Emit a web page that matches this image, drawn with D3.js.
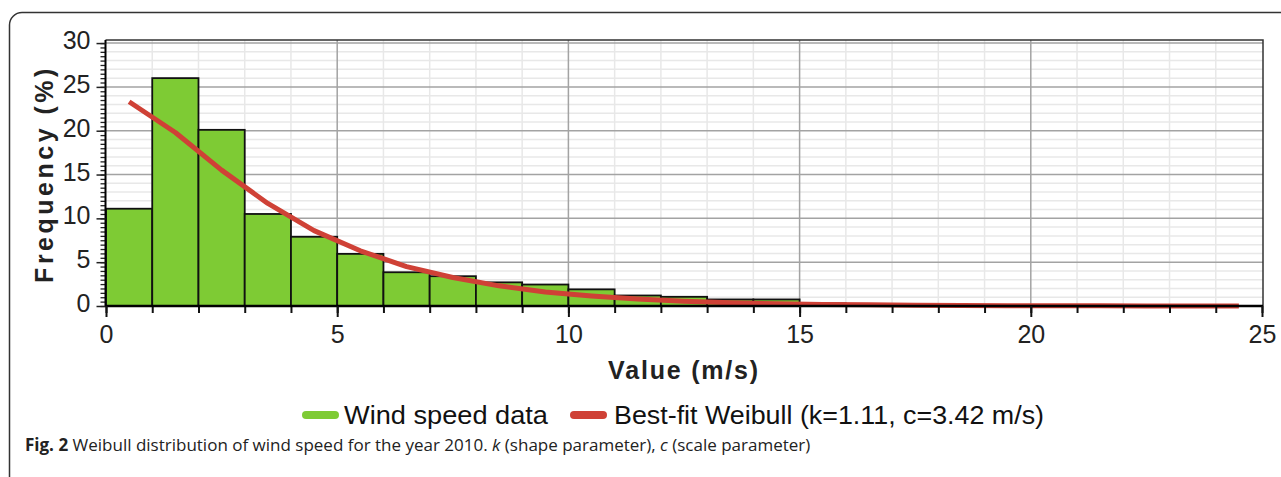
<!DOCTYPE html>
<html>
<head>
<meta charset="utf-8">
<script src="https://cdnjs.cloudflare.com/ajax/libs/d3/7.8.5/d3.min.js"></script>
<style>
  body { margin: 0; background: #fff; }
  svg { display: block; }
</style>
</head>
<body>
<div id="chart"></div>
<script>
// histogram bins (left edge, m/s) and frequency (%)
var binLeft = [0, 1, 2, 3, 4, 5, 6, 7, 8, 9, 10, 11, 12, 13, 14, 15, 16, 17];
var binFreq = [11.1, 26.0, 20.1, 10.5, 7.9, 5.95, 3.85, 3.4, 2.7, 2.45, 1.9, 1.2, 1.05, 0.75, 0.75, 0.3, 0.1, 0.05];

// best-fit Weibull curve read at bin centres
var fitSpeed = [0.5, 1.5, 2.5, 3.5, 4.5, 5.5, 6.5, 7.5, 8.5, 9.5, 10.5, 11.5, 12.5,
  13.5, 14.5, 15.5, 16.5, 17.5, 18.5, 19.5, 20.5, 21.5, 22.5, 23.5, 24.5];
var fitFreq = [23.3, 19.8, 15.5, 11.7, 8.6, 6.3, 4.5, 3.25, 2.3, 1.6, 1.15, 0.8, 0.55,
  0.38, 0.26, 0.18, 0.13, 0.09, 0.06, 0.04, 0.03, 0.02, 0.01, 0.01, 0.0];

var xTicks = [0, 5, 10, 15, 20, 25];
var yTicks = [0, 5, 10, 15, 20, 25, 30];

var legendLabels = ["Wind speed data", "Best-fit Weibull (k=1.11, c=3.42 m/s)"];

var svgWidth = 1281;
var svgHeight = 477;
var plotLeft = 105.5, plotRight = 1263, plotTop = 40, plotBottom = 306;

var svg = d3.select("#chart")
  .append("svg")
  .attr("width", svgWidth)
  .attr("height", svgHeight);

var x = d3.scaleLinear().domain([0, 25]).range([106, 1262]);
var y = d3.scaleLinear().domain([0, 30.35]).range([plotBottom, plotTop]);

var green = "#7ecb34";
var red = "#cf4136";
var font = "'Liberation Sans', Arial, sans-serif";

// outer rounded frame
svg.append("path")
  .attr("d", "M9.5,477 V25 A12.5,12.5 0 0 1 22,12.5 H1281")
  .attr("fill", "none")
  .attr("stroke", "#333")
  .attr("stroke-width", 1.5);

// grid
var gridG = svg.append("g");
var minorX = [], minorY = [];
for (var i = 1; i < 25; i++) if (i % 5 !== 0) minorX.push(i);
for (var j = 1; j < 30; j++) if (j % 5 !== 0) minorY.push(j);

gridG.selectAll(".mx").data(minorX).enter().append("line")
  .attr("x1", d => x(d)).attr("x2", d => x(d))
  .attr("y1", plotTop).attr("y2", plotBottom)
  .attr("stroke", "#e8e8e8").attr("stroke-width", 1.5);
gridG.selectAll(".my").data(minorY).enter().append("line")
  .attr("x1", plotLeft).attr("x2", plotRight)
  .attr("y1", d => y(d)).attr("y2", d => y(d))
  .attr("stroke", "#e8e8e8").attr("stroke-width", 1.5);
gridG.selectAll(".Mx").data(xTicks.slice(1, -1)).enter().append("line")
  .attr("x1", d => x(d)).attr("x2", d => x(d))
  .attr("y1", plotTop).attr("y2", plotBottom)
  .attr("stroke", "#a3a3a3").attr("stroke-width", 1.5);
gridG.selectAll(".My").data(yTicks.slice(1)).enter().append("line")
  .attr("x1", plotLeft).attr("x2", plotRight)
  .attr("y1", d => y(d)).attr("y2", d => y(d))
  .attr("stroke", "#a3a3a3").attr("stroke-width", 1.5);

// bars
svg.append("g")
  .selectAll("rect")
  .data(binLeft)
  .enter()
  .append("rect")
  .attr("x", d => x(d))
  .attr("width", d => x(d + 1) - x(d))
  .attr("y", (d, i) => y(binFreq[i]))
  .attr("height", (d, i) => y(0) - y(binFreq[i]))
  .attr("fill", green)
  .attr("stroke", "#111")
  .attr("stroke-width", 1.8);

// weibull fit line
var line = d3.line()
  .x((d, i) => x(fitSpeed[i]))
  .y(d => y(d));
svg.append("path")
  .datum(fitFreq)
  .attr("d", line)
  .attr("fill", "none")
  .attr("stroke", red)
  .attr("stroke-width", 5)
  .attr("stroke-linejoin", "round");

// plot border top/right
svg.append("path")
  .attr("d", `M${plotLeft},${plotTop} H${plotRight} V${plotBottom}`)
  .attr("fill", "none")
  .attr("stroke", "#333")
  .attr("stroke-width", 1.5);

// y axis
var yMinor = [];
for (var k = 0; k <= 60; k++) yMinor.push(k / 2);
svg.append("g")
  .attr("transform", `translate(${plotLeft},0)`)
  .call(d3.axisLeft(y).tickValues(yMinor).tickSize(5).tickFormat(""))
  .call(g => g.select(".domain").remove())
  .selectAll("line").attr("stroke", "#222").attr("stroke-width", 1.3);

var yAxisG = svg.append("g")
  .attr("transform", `translate(${plotLeft},0)`)
  .call(d3.axisLeft(y).tickValues(yTicks).tickSize(9).tickPadding(6).tickSizeOuter(0));
yAxisG.select(".domain").attr("stroke", "#000").attr("stroke-width", 2)
  .attr("d", `M0,${plotTop}V${plotBottom}`);
yAxisG.selectAll("line").attr("stroke", "#222").attr("stroke-width", 1.5);
yAxisG.selectAll("text")
  .attr("dy", "0.22em")
  .style("font-family", font)
  .style("font-size", "25px")
  .attr("fill", "#222");

// x axis
var xAll = [];
for (var m = 0; m <= 25; m++) xAll.push(m);
svg.append("g")
  .attr("transform", `translate(0,${plotBottom})`)
  .call(d3.axisBottom(x).tickValues(xAll).tickSize(7).tickFormat(""))
  .call(g => g.select(".domain").remove())
  .selectAll("line").attr("stroke", "#111").attr("stroke-width", 2);

var xAxisG = svg.append("g")
  .attr("transform", `translate(0,${plotBottom})`)
  .call(d3.axisBottom(x).tickValues(xTicks).tickSize(11).tickPadding(8).tickSizeOuter(0));
xAxisG.select(".domain").attr("stroke", "#000").attr("stroke-width", 2.5)
  .attr("d", `M${plotLeft},0H${plotRight}`);
xAxisG.selectAll("line").attr("stroke", "#111").attr("stroke-width", 2);
xAxisG.selectAll("text")
  .style("font-family", font)
  .style("font-size", "25px")
  .attr("fill", "#222");

// axis titles
svg.append("text")
  .text("Frequency (%)")
  .attr("transform", "translate(53,174) rotate(-90)")
  .attr("text-anchor", "middle")
  .style("font-family", font)
  .style("font-size", "25px")
  .style("font-weight", "bold")
  .style("letter-spacing", "3.5px")
  .attr("fill", "#222");

svg.append("text")
  .text("Value (m/s)")
  .attr("x", 684)
  .attr("y", 379)
  .attr("text-anchor", "middle")
  .style("font-family", font)
  .style("font-size", "25px")
  .style("font-weight", "bold")
  .style("letter-spacing", "1.8px")
  .attr("fill", "#222");

// legend
var legend = [
  { sx: 302, tx: 344, tw: 204, color: green },
  { sx: 570, tx: 614, tw: 430, color: red }
];
var lg = svg.append("g");
lg.selectAll("rect").data(legend).enter().append("rect")
  .attr("x", d => d.sx).attr("y", 411)
  .attr("width", 37).attr("height", 8)
  .attr("rx", 4)
  .attr("fill", d => d.color);
lg.selectAll("text").data(legend).enter().append("text")
  .text((d, i) => legendLabels[i])
  .attr("x", d => d.tx).attr("y", 424)
  .attr("textLength", d => d.tw)
  .attr("lengthAdjust", "spacingAndGlyphs")
  .style("font-family", font)
  .style("font-size", "26px")
  .attr("fill", "#111");

// caption
var cap = svg.append("text")
  .attr("x", 25)
  .attr("y", 451)
  .style("font-family", "'Open Sans', sans-serif")
  .style("font-size", "17px")
  .attr("fill", "#222");
cap.append("tspan").text("Fig. 2").style("font-weight", "bold");
cap.append("tspan").text(" Weibull distribution of wind speed for the year 2010. ");
cap.append("tspan").text("k").style("font-style", "italic");
cap.append("tspan").text(" (shape parameter), ");
cap.append("tspan").text("c").style("font-style", "italic");
cap.append("tspan").text(" (scale parameter)");
</script>
</body>
</html>
